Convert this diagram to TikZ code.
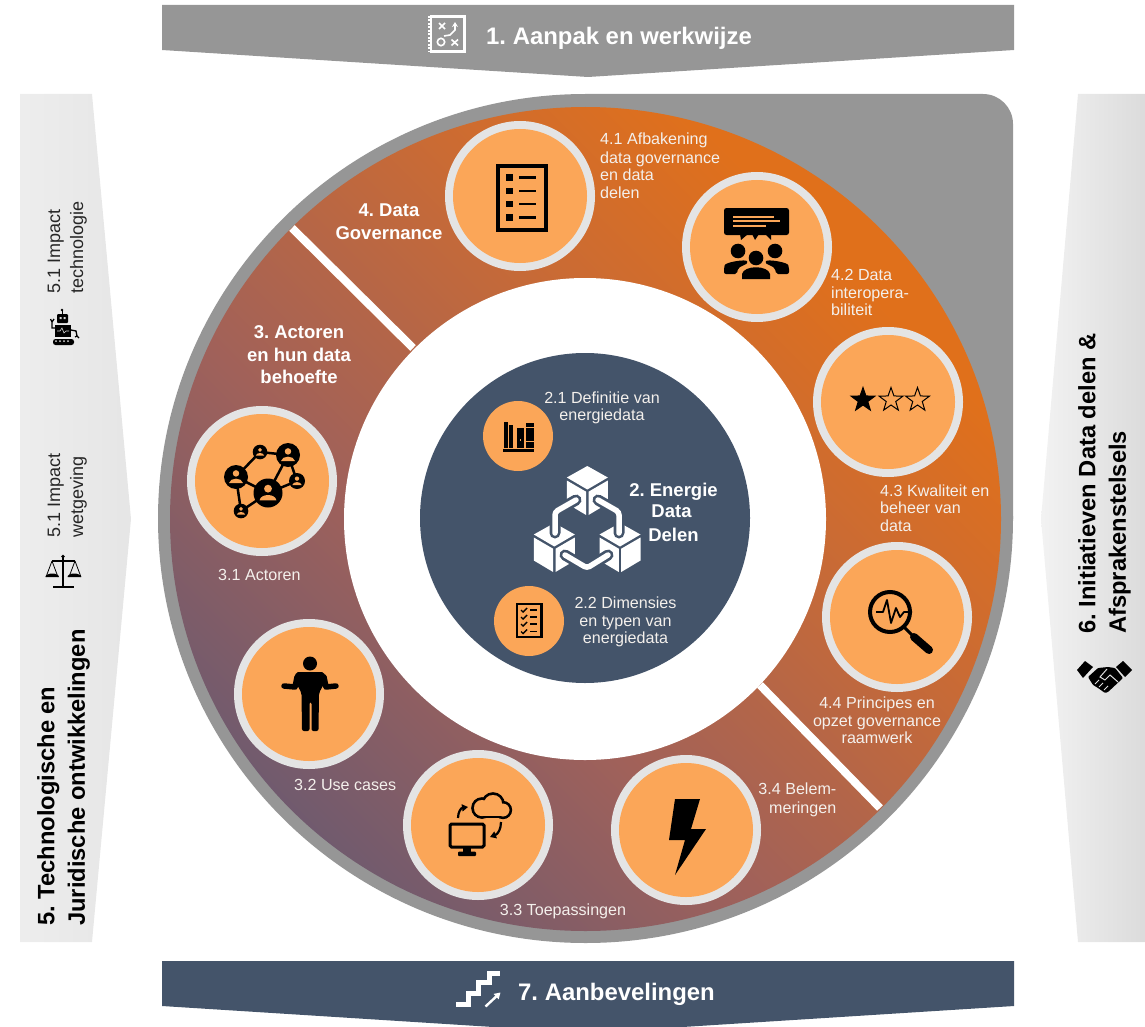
\documentclass[tikz,border=0pt]{standalone}
\usepackage{fontspec}
\setmainfont{Liberation Sans}
\usetikzlibrary{shapes.geometric,arrows.meta}
\definecolor{bgray}{HTML}{969696}
\definecolor{navy}{HTML}{44546A}
\definecolor{ringA}{HTML}{E0701B}
\definecolor{ringB}{HTML}{CB6B33}
\definecolor{ringC}{HTML}{A0615A}
\definecolor{ringD}{HTML}{6E5A6F}
\definecolor{halo}{HTML}{E4E4E4}
\definecolor{disc}{HTML}{FBA658}
\definecolor{lblc}{HTML}{F4F0EC}
\frenchspacing
\pgfdeclarehorizontalshading{ringshade}{100bp}{color(0bp)=(ringD); color(24bp)=(ringD); color(41bp)=(ringC); color(60bp)=(ringB); color(72bp)=(ringA); color(100bp)=(ringA)}
\tikzset{
 lbl/.style={text=lblc,font=\fontsize{16.1}{17.5}\selectfont,align=left,inner sep=0pt},
 lblc/.style={lbl,align=center},
 head/.style={text=white,font=\fontsize{18.5}{22.5}\bfseries\selectfont,align=center,inner sep=0pt},
 bann/.style={text=white,font=\fontsize{23.9}{26}\bfseries\selectfont,inner sep=0pt},
 vbold/.style={text=black,font=\fontsize{23.7}{30.5}\bfseries\selectfont,align=left,inner sep=0pt,rotate=90},
 vreg/.style={text=black!85,font=\fontsize{18}{23}\selectfont,align=left,inner sep=0pt,rotate=90},
 sep/.style={draw=white,line width=8pt},
 outerdisc/.style={circle,fill=halo,minimum size=150pt,inner sep=0pt},
 innerdisc/.style={circle,fill=disc,minimum size=134pt,inner sep=0pt},
 smalldisc/.style={circle,fill=disc,minimum size=70pt,inner sep=0pt},
 starfull/.style={star,star points=5,star point ratio=2.5,minimum size=25pt,inner sep=0pt,draw=black,line width=1pt,fill=black},
 starvoid/.style={starfull,fill=disc},
}
\newcommand{\bigdisc}[3]{\node[outerdisc] (o#1) at (#2,#3) {};\node[innerdisc] (i#1) at (#2,#3) {};}
\newcommand{\cubeic}[2]{\begin{scope}[shift={(#1,#2)}]
 \fill[white] (0,-25)--(20.5,-13.5)--(0,-1.5)--(-20.5,-13.5)--cycle;
 \fill[white] (-20.5,-10.5)--(-1.2,0.7)--(-1.2,24)--(-20.5,12.5)--cycle;
 \fill[white] (20.5,-10.5)--(1.2,0.7)--(1.2,24)--(20.5,12.5)--cycle;
\end{scope}}
\newcommand{\netn}[3]{\begin{scope}[shift={(#1,#2)}]
 \fill[black] (0,0) circle (#3);
 \fill[disc] (0,-#3*0.3) circle (#3*0.27);
 \fill[disc] (-#3*0.58,#3*0.5) .. controls (-#3*0.5,#3*0.02) and (#3*0.5,#3*0.02) .. (#3*0.58,#3*0.5) -- cycle;
\end{scope}}
\begin{document}
\begin{tikzpicture}[x=1pt,y=-1pt]
\useasboundingbox (0,0) rectangle (1145,1027);
\clip (0,0) rectangle (1145,1027);
% banners
\fill[bgray] (162,5)--(1014,5)--(1014,50)--(588,77)--(162,50)--cycle;
\fill[navy] (162,961)--(1014,961)--(1014,1006)--(588,1033)--(162,1006)--cycle;
\shade[left color=white!93!black,middle color=white!85!black,right color=white!90!black] (20,94)--(92,94)--(131,519)--(92,942)--(20,942)--cycle;
\shade[left color=white!95!black,right color=white!86!black] (1078,94)--(1145,94)--(1145,942)--(1078,942)--(1041,519)--cycle;
% grey back and ring
\fill[bgray] (585.5,518.5) ellipse[x radius=427.5,y radius=424.5];
\fill[bgray] (585.5,94) -- (983,94) arc[start angle=90,end angle=0,x radius=30,y radius=-30] -- (1013,519) -- (585.5,519) -- cycle;
\shade[shading=ringshade,shading angle=45] (585.5,519) ellipse[x radius=415.5,y radius=412];
\fill[white] (585,519) circle (241);
\fill[navy] (585,518) circle (165);
\coordinate (sepA1) at (292,228);\coordinate (sepA2) at (413,348);
\coordinate (sepB1) at (760,685);\coordinate (sepB2) at (880,808);
\draw[sep] (sepA1)--(sepA2);
\draw[sep] (sepB1)--(sepB2);
% discs
\bigdisc{a}{520}{196}
\bigdisc{b}{757}{247}
\bigdisc{c}{888}{402}
\bigdisc{d}{897}{617}
\bigdisc{e}{686}{830}
\bigdisc{f}{478}{825}
\bigdisc{g}{309}{694}
\bigdisc{h}{262}{481}
\node[smalldisc] (sa) at (518,436) {};
\node[smalldisc] (sb) at (529,621) {};
% --- banner texts
\node[bann,anchor=west] (t1) at (486,38.5) {1. Aanpak en werkwijze};
\node[bann,anchor=west] (t7) at (518,994) {7. Aanbevelingen};
\node[vbold,anchor=south west] (t5) at (90,926) {5. Technologische en\\Juridische ontwikkelingen};
\node[vbold,anchor=south west] (t6) at (1131,634) {6. Initiatieven Data delen \&\\Afsprakenstelsels};
\node[vreg,anchor=south west] (t51) at (87,294) {5.1 Impact\\technologie};
\node[vreg,anchor=south west] (t52) at (87,538) {5.1 Impact\\wetgeving};
% --- ring labels
\node[lbl,anchor=north west] (l41) at (600,132.5) {4.1 Afbakening\\[1.5pt]data governance\\en data\\delen};
\node[lbl,anchor=north west] (l42) at (831,269.5) {4.2 Data\\interopera-\\biliteit};
\node[lbl,anchor=north west] (l43) at (880,484.5) {4.3 Kwaliteit en\\beheer van\\data};
\node[lblc,anchor=north] (l44) at (877,697) {4.4 Principes en\\opzet governance\\raamwerk};
\node[lbl,align=right,anchor=north east] (l34) at (836.5,783) {3.4 Belem-\\[1pt]meringen};
\node[lblc] (l33) at (563,911) {3.3 Toepassingen};
\node[lbl,anchor=west] (l32) at (294,785) {3.2 Use cases};
\node[lbl,anchor=west] (l31) at (218,575) {3.1 Actoren};
\node[head] (h3) at (299,355) {3. Actoren\\en hun data\\behoefte};
\node[head] (h4) at (389,221.5) {4. Data\\Governance};
\node[lblc] (l21) at (602,408) {2.1 Definitie van\\energiedata};
\node[lblc,anchor=north] (l22) at (625.5,597) {2.2 Dimensies\\en typen van\\energiedata};
\node[head,anchor=center] (h2a) at (673.5,492) {2. Energie};
\node[head] (h2b) at (671.5,511) {Data};
\node[head] (h2c) at (673.5,535) {Delen};
% --- icon 1 (playbook)
\begin{scope}[white]
 \draw[line width=2.5pt] (431,16.5) rectangle (464.5,51.5);
 \draw[line width=3.5pt,dash pattern=on 2pt off 1.5pt] (429.5,16) -- (429.5,52);
 \draw[line width=1.6pt] (439,23) -- (445,29) (445,23) -- (439,29);
 \draw[line width=1.6pt] (451.5,39.5) -- (458,45.5) (458,39.5) -- (451.5,45.5);
 \draw[line width=1.6pt] (441,42) circle (3.7);
 \draw[line width=1.6pt,-{Stealth[length=5pt,width=6pt]}] (444,36) -- (450,35) -- (455,30) -- (455,22);
\end{scope}
% --- icon 7 stairs
\draw[white,line width=5pt] (456,1004)--(468,1004)--(468,993)--(478,993)--(478,982)--(489,982)--(489,973)--(500,973);
\draw[white,line width=2.4pt,-{Stealth[length=6pt,width=7pt,inset=0pt]}] (485.5,1006.5)--(500.5,992.5);
% --- icon 4.1
\draw[black,line width=4pt] (498,166) rectangle (545.5,229.5);
\foreach \yy in {177.5,191,204,217.5}{
 \fill[black] (506,\yy-3.3) rectangle (513,\yy+3.3);
 \draw[black,line width=2.6pt] (519,\yy)--(536,\yy);}
% --- icon 4.2
\fill[black,rounded corners=2.5pt] (724,208) rectangle (789,235);
\fill[black] (740,234)--(741,240)--(748,234)--cycle (752,234)--(755,240)--(759,234)--cycle (765,234)--(771,240)--(771,234)--cycle;
\draw[disc,line width=1.3pt] (733,217)--(774,217) (733,221)--(780,221) (733,226)--(766,226);
\fill[black] (738,251) circle (7.3) (775,251) circle (7.3) (756,258) circle (7.3);
\fill[black,rounded corners=2pt] (724,274) -- (724,267) .. controls (726,262) and (746,259) .. (748,263) -- (738,268) -- (737,274) -- cycle;
\fill[black,rounded corners=2pt] (789,274) -- (789,267) .. controls (787,262) and (767,259) .. (765,263) -- (775,268) -- (776,274) -- cycle;
\fill[black] (742,279) -- (742,274) .. controls (744,265) and (768,265) .. (770,274) -- (770,279) -- cycle;
% --- icon 4.3 stars
\node[starfull] (s1) at (863,400) {};
\node[starvoid] (s2) at (891,400) {};
\node[starvoid] (s3) at (917.5,400) {};
% --- icon 4.4 magnifier
\draw[black,line width=4pt] (890,612) circle (20);
\draw[black,line width=3pt] (904,627)--(913,636);
\draw[black,line width=8pt,line cap=round] (914,637)--(929,650);
\draw[black,line width=1.8pt,line join=round] (876,612)--(883,612)--(887,600)--(891,623)--(896,608)--(900,617)--(904,612)--(912,612);
% --- icon 3.4 bolt
\fill[black] (675,799)--(700,799)--(691,829)--(706,829)--(675,875)--(685,840)--(669,840)--cycle;
% --- icon 3.3
\draw[black,line width=3pt,rounded corners=1.5pt] (450,824) rectangle (484,847);
\fill[black] (463,848) rectangle (471,853);
\fill[black,rounded corners=1pt] (458,851.5) rectangle (476,856);
\foreach \lw/\col in {5.6pt/black,0.1pt/disc}{
 \draw[\col,fill=\col,line width=\lw] (482,808) circle (8);
 \draw[\col,fill=\col,line width=\lw] (493,804) circle (9);
 \draw[\col,fill=\col,line width=\lw] (503,810) circle (6.3);
 \draw[\col,fill=\col,line width=\lw] (480,811) rectangle (505,815.5);}
\draw[black,line width=2.2pt,-{Stealth[length=6pt,width=7pt,inset=0pt]}] (458,818) .. controls (458,812) and (461,808) .. (468,807);
\draw[black,line width=2.2pt,-{Stealth[length=6pt,width=7pt,inset=0pt]}] (501,822) .. controls (501,829) and (498,834) .. (490,837);
% --- icon 3.2 person
\fill[black] (310,663.5) circle (7);
\fill[black,rounded corners=2pt] (296,672)--(324,672)--(326,680)--(319,693)--(318.5,731)--(311.5,731)--(311.5,702)--(309.5,702)--(309.5,731)--(302,731)--(301.5,693)--(294.5,680)--cycle;
\draw[black,line width=5.5pt,line cap=round,line join=round] (297,677)--(295,687)--(284,686);
\draw[black,line width=5.5pt,line cap=round,line join=round] (324,677)--(326,687)--(336,686);
% --- icon 3.1 network
\draw[black,line width=2.5pt] (260,452)--(288,455) (260,452)--(236,477) (288,455)--(268,493) (288,455)--(297,481) (236,477)--(268,493) (236,477)--(241,511) (241,511)--(268,493) (297,481)--(268,493);
\netn{260}{452}{7.3}
\netn{288}{455}{12}
\netn{236}{477}{12}
\netn{297}{481}{8}
\netn{268}{493}{14.5}
\netn{241}{511}{7.3}
% --- icon 2.1 books
\fill[black] (503,449) rectangle (533.5,452);
\fill[black] (503.5,422) rectangle (507.5,447.5);
\fill[black] (509,425) rectangle (513,447.5);
\fill[black] (517,428) rectangle (524,447.5);
\fill[black] (526,423) rectangle (533.5,447.5);
\fill[disc] (519.5,439) rectangle (521,441);
\draw[disc,line width=0.8pt] (526,427)--(533.5,427) (526,441)--(533.5,441);
% --- icon 2.2 checklist
\draw[black,line width=2.4pt] (517,604) rectangle (541.5,637);
\foreach \yy in {610,617,624,631.5}{
 \draw[black,line width=1.4pt] (521,\yy)--(523,\yy+2)--(527,\yy-2);
 \draw[black,line width=1.4pt] (530,\yy)--(537,\yy);}
% --- centre icon
\cubeic{587.3}{491}
\cubeic{554.3}{548}
\cubeic{620}{548}
\foreach \lw/\col in {11pt/navy,5.5pt/white}{
 \draw[\col,line width=\lw,line cap=round,rounded corners=3pt] (576,500)--(555,512)--(555,533);
 \draw[\col,line width=\lw,line cap=round,rounded corners=3pt] (598,500)--(619,512)--(619,533);
 \draw[\col,line width=\lw,line cap=round,rounded corners=3pt] (565,555)--(587,568)--(608,555);}
% --- robot
\fill[black] (62,310) circle (1.3);
\draw[black,line width=1pt] (62,310)--(62,314);
\fill[black,rounded corners=1pt] (57,314) rectangle (68,323);
\fill[white!85!black] (59.5,317) rectangle (61.5,319) (63.5,317) rectangle (65.5,319);
\fill[black] (55,325) rectangle (71,337);
\draw[white!85!black,line width=0.6pt] (57,331)--(60,331)--(62,328)--(64,333)--(66,331)--(69,331);
\fill[black,rounded corners=2.5pt] (53,339) rectangle (74,345);
\fill[white!85!black] (56,341) circle (1) (60,341) circle (1) (64,341) circle (1) (68,341) circle (1);
\draw[black,line width=1.3pt] (55,328)--(52,328)--(52,322) (50.5,319)--(52,322)--(54,319);
\draw[black,line width=1.3pt] (71,330)--(76,331)--(77,336) (75,337)--(77,336)--(79,338);
% --- scales
\draw[black,line width=2pt] (63,557)--(63,586);
\fill[black] (63,556.5) circle (1.8);
\draw[black,line width=2pt] (53,586.5)--(74,586.5);
\draw[black,line width=1.4pt] (52,561)--(75,561);
\draw[black,line width=0.8pt] (52,561)--(46,577) (52,561)--(58,577) (75,561)--(69,577) (75,561)--(81,577);
\fill[black] (45.5,577) -- (59,577) arc[start angle=0,end angle=180,x radius=6.75,y radius=-3.5] -- cycle;
\fill[black] (67.5,577) -- (81,577) arc[start angle=0,end angle=180,x radius=6.75,y radius=-3.5] -- cycle;
% --- handshake
\fill[black] (1077,670)--(1085,661)--(1093,667)--(1083,678)--cycle;
\fill[black] (1132,670)--(1123,661)--(1116,667)--(1125,677)--cycle;
\fill[black,rounded corners=1pt] (1088,677)--(1098,668)--(1108,667)--(1115,668)--(1123,678)--(1108,692)--(1105,693)--(1098,688)--(1093,685)--cycle;
\draw[white!88!black,line width=1pt] (1107,669)--(1100,677)--(1105,680)--(1110,675)--(1118,682);
\draw[white!88!black,line width=0.8pt] (1095,684)--(1099,680) (1099,687)--(1103,683) (1104,690)--(1108,686);
\end{tikzpicture}
\end{document}
